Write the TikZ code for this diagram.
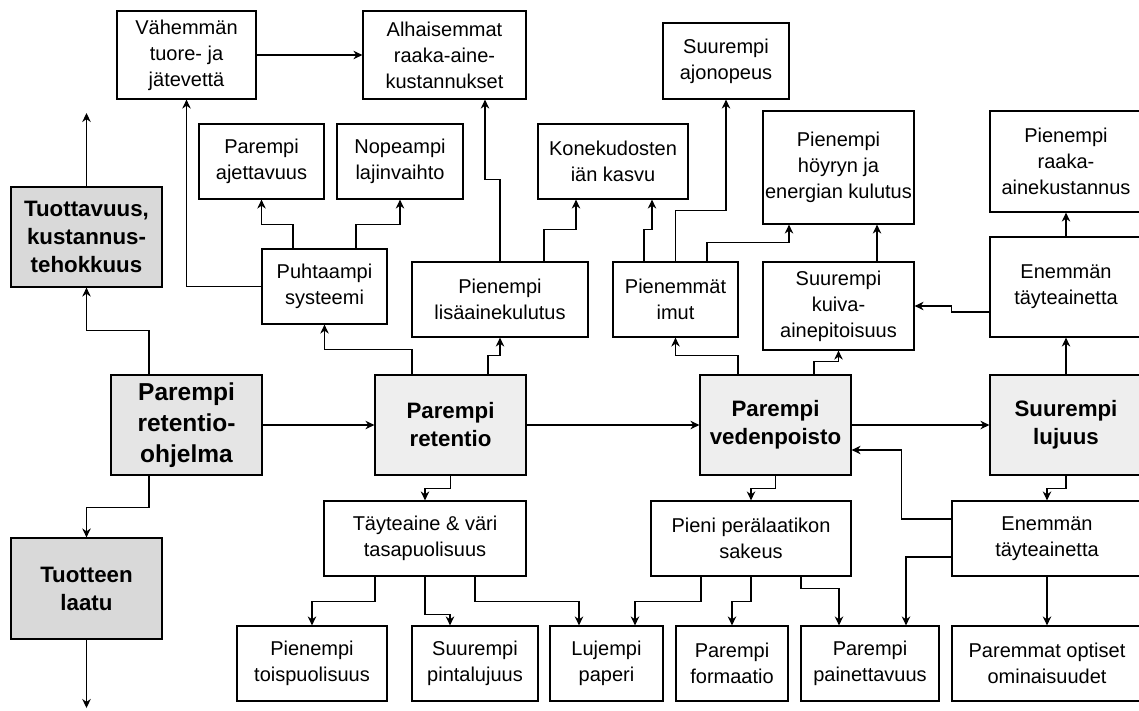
\documentclass[tikz,border=0pt]{standalone}
\usepackage{fontspec}
\setmainfont{Liberation Sans}
\usetikzlibrary{arrows.meta}

\tikzset{
  box/.style={draw, rectangle, align=center, inner sep=0pt, line width=1.2pt,
    font=\fontsize{20}{26}\selectfont},
  mainbox/.style={box, fill=gray!13, font=\fontsize{22.3}{28}\selectfont\bfseries},
  arr/.style={-{Stealth[length=9pt,width=8.5pt]}, line width=1.2pt},
}

\begin{document}
\begin{tikzpicture}[x=1pt,y=-1pt]
\useasboundingbox (0,0) rectangle (1139,710);

% goals on the left
\node[mainbox, fill=gray!30, minimum width=151pt, minimum height=100pt] (tuottavuus) at (86.5,237) {Tuottavuus,\\kustannus-\\tehokkuus};
\node[mainbox, fill=gray!20, minimum width=151pt, minimum height=100pt, font=\fontsize{24.5}{31}\selectfont\bfseries] (ohjelma) at (186.5,425) {Parempi\\retentio-\\ohjelma};
\node[mainbox, fill=gray!30, minimum width=151pt, minimum height=101pt] (tuotteen) at (86.5,588.5) {Tuotteen\\laatu};
\coordinate (ylos) at (86.5,113);
\coordinate (alas) at (86.5,708);

% main chain
\node[mainbox, minimum width=151pt, minimum height=100pt] (retentio) at (450.5,425) {Parempi\\retentio};
\node[mainbox, minimum width=151pt, minimum height=100pt] (vedenpoisto) at (775.5,425) {Parempi\\vedenpoisto};
\node[mainbox, minimum width=152pt, minimum height=100pt] (lujuus) at (1066,425) {Suurempi\\lujuus};

% upper row
\node[box, minimum width=139pt, minimum height=88pt] (vahemman) at (186.5,55) {Vähemmän\\tuore- ja\\jätevettä};
\node[box, minimum width=163pt, minimum height=88pt] (alhaisemmat) at (444.5,55) {Alhaisemmat\\raaka-aine-\\kustannukset};
\node[box, minimum width=126pt, minimum height=76pt] (ajonopeus) at (726,61) {Suurempi\\ajonopeus};
\node[box, minimum width=125pt, minimum height=75pt] (ajettavuus) at (261.5,161.5) {Parempi\\ajettavuus};
\node[box, minimum width=126pt, minimum height=75pt] (lajinvaihto) at (400,161.5) {Nopeampi\\lajinvaihto};
\node[box, minimum width=150pt, minimum height=75pt] (konekudosten) at (613,161.5) {Konekudosten\\iän kasvu};
\node[box, minimum width=151pt, minimum height=113pt] (hoyry) at (838.5,167.5) {Pienempi\\höyryn ja\\energian kulutus};
\node[box, minimum width=152pt, minimum height=101pt] (raakaaine) at (1066,161.5) {Pienempi\\raaka-\\ainekustannus};

\node[box, minimum width=125pt, minimum height=75pt] (puhtaampi) at (324.5,286.5) {Puhtaampi\\systeemi};
\node[box, minimum width=176pt, minimum height=75pt] (lisaaine) at (500,299.5) {Pienempi\\lisäainekulutus};
\node[box, minimum width=125pt, minimum height=75pt] (imut) at (675.5,299.5) {Pienemmät\\imut};
\node[box, minimum width=151pt, minimum height=88pt] (kuiva) at (838.5,306) {Suurempi\\kuiva-\\ainepitoisuus};
\node[box, minimum width=152pt, minimum height=100pt] (taytetop) at (1066,287) {Enemmän\\täyteainetta};

% lower rows
\node[box, minimum width=202pt, minimum height=75pt] (tasapuoli) at (425,538.5) {Täyteaine \& väri\\tasapuolisuus};
\node[box, minimum width=200pt, minimum height=75pt] (sakeus) at (751,538.5) {Pieni perälaatikon\\sakeus};
\node[box, minimum width=190pt, minimum height=75pt] (taytebot) at (1047,538.5) {Enemmän\\täyteainetta};

\node[box, minimum width=150pt, minimum height=75pt] (toispuoli) at (312,663.5) {Pienempi\\toispuolisuus};
\node[box, minimum width=126pt, minimum height=75pt] (pintalujuus) at (475,663.5) {Suurempi\\pintalujuus};
\node[box, minimum width=113pt, minimum height=75pt] (lujempi) at (606.5,663.5) {Lujempi\\paperi};
\node[box, minimum width=112pt, minimum height=75pt] (formaatio) at (732,663.5) {Parempi\\formaatio};
\node[box, minimum width=138pt, minimum height=75pt] (painettavuus) at (870,663.5) {Parempi\\painettavuus};
\node[box, minimum width=190pt, minimum height=75pt] (optiset) at (1047,663.5) {Paremmat optiset\\ominaisuudet};

% left side
\draw[arr] (tuottavuus) -- (ylos);
\draw[arr] ([xshift=-37.5pt]ohjelma.north) -- ++(0,-44) -| (tuottavuus.south);
\draw[arr] ([xshift=-37.5pt]ohjelma.south) -- ++(0,32) -| (tuotteen.north);
\draw[arr] (tuotteen) -- (alas);
\draw[arr] (ohjelma) -- (retentio);

% main chain
\draw[arr] (retentio) -- (vedenpoisto);
\draw[arr] (vedenpoisto) -- (lujuus);

% from retentio
\draw[arr] ([xshift=-38.5pt]retentio.north) -- ++(0,-25) -| (puhtaampi.south);
\draw[arr] ([xshift=37.5pt]retentio.north) -- ++(0,-19) -| (lisaaine.south);
\draw[arr] (retentio.south) -- ++(0,13) -| (tasapuoli.north);

\draw[arr] ([xshift=-31.5pt]puhtaampi.north) -- ++(0,-24) -| (ajettavuus.south);
\draw[arr] ([xshift=31.5pt]puhtaampi.north) -- ++(0,-24) -| (lajinvaihto.south);
\draw[arr] (puhtaampi.west) -| (vahemman.south);
\draw[arr] (vahemman) -- (alhaisemmat);

\draw[arr] (lisaaine.north) -- ++(0,-82) -| ([xshift=40.5pt]alhaisemmat.south);
\draw[arr] ([xshift=44pt]lisaaine.north) -- ++(0,-32) -| ([xshift=-37pt]konekudosten.south);

% from vedenpoisto
\draw[arr] ([xshift=-37.5pt]vedenpoisto.north) -- ++(0,-19) -| (imut.south);
\draw[arr] ([xshift=38.5pt]vedenpoisto.north) -- ++(0,-13) -| (kuiva.south);
\draw[arr] (vedenpoisto.south) -- ++(0,13) -| (sakeus.north);

\draw[arr] ([xshift=-31.5pt]imut.north) -- ++(0,-32) -| ([xshift=39pt]konekudosten.south);
\draw[arr] (imut.north) -- ++(0,-51) -| (ajonopeus.south);
\draw[arr] ([xshift=31.5pt]imut.north) -- ++(0,-19) -| ([xshift=-49.5pt]hoyry.south);
\draw[arr] ([xshift=38.5pt]kuiva.north) -- ([xshift=38.5pt]hoyry.south);

% from lujuus
\draw[arr] (lujuus) -- (taytetop);
\draw[arr] (taytetop) -- (raakaaine);
\draw[arr] ([yshift=-25pt]taytetop.west) -- ++(-38,0) |- (kuiva.east);
\draw[arr] (lujuus.south) -- ++(0,13) -| (taytebot.north);
\draw[arr] ([yshift=19.5pt]taytebot.west) -- ++(-50,0) |- ([yshift=-25pt]vedenpoisto.east);
\draw[arr] ([yshift=-18.5pt]taytebot.west) -| ([xshift=36pt]painettavuus.north);
\draw[arr] (taytebot) -- (optiset);

% bottom row
\draw[arr] ([xshift=-50pt]tasapuoli.south) -- ++(0,25) -| (toispuoli.north);
\draw[arr] (tasapuoli.south) -- ++(0,38) -| ([xshift=-25pt]pintalujuus.north);
\draw[arr] ([xshift=50pt]tasapuoli.south) -- ++(0,25) -| ([xshift=-27.5pt]lujempi.north);

\draw[arr] ([xshift=-50pt]sakeus.south) -- ++(0,25) -| ([xshift=28.5pt]lujempi.north);
\draw[arr] (sakeus.south) -- ++(0,25) -| (formaatio.north);
\draw[arr] ([xshift=50pt]sakeus.south) -- ++(0,12) -| ([xshift=-31pt]painettavuus.north);

\end{tikzpicture}
\end{document}
